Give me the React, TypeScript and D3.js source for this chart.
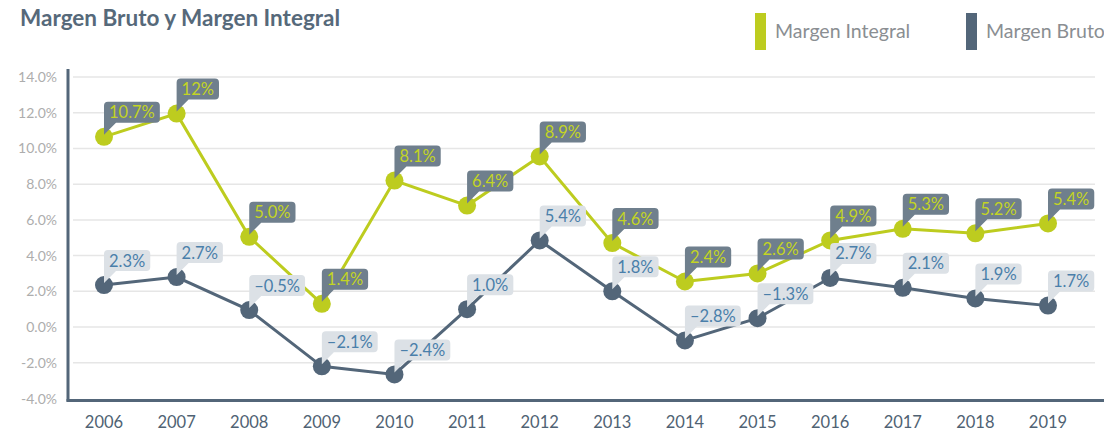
import React, { useEffect, useRef } from "react";
import * as d3 from "d3";

const years = ["2006","2007","2008","2009","2010","2011","2012","2013","2014","2015","2016","2017","2018","2019"];
const integralValues = [10.65, 11.95, 5.05, 1.3, 8.2, 6.8, 9.55, 4.7, 2.55, 3.0, 4.85, 5.5, 5.25, 5.8];
const brutoValues = [2.35, 2.8, 0.95, -2.2, -2.65, 1.0, 4.85, 2.0, -0.75, 0.5, 2.75, 2.2, 1.6, 1.2];
const integralLabels = ["10.7%","12%","5.0%","1.4%","8.1%","6.4%","8.9%","4.6%","2.4%","2.6%","4.9%","5.3%","5.2%","5.4%"];
const brutoLabels = ["2.3%","2.7%","–0.5%","–2.1%","–2.4%","1.0%","5.4%","1.8%","–2.8%","–1.3%","2.7%","2.1%","1.9%","1.7%"];
const yTicks = [-4, -2, 0, 2, 4, 6, 8, 10, 12, 14];
const legendItems = ["Margen Integral", "Margen Bruto"];
const title = "Margen Bruto y Margen Integral";

const W = 1104, H = 433;
const LIME = "#BDCC1F";
const SLATE = "#536679";
const FONT = "Lato, 'Open Sans', sans-serif";

export default function App() {
  const ref = useRef<SVGSVGElement>(null);

  useEffect(() => {
    const svg = d3.select(ref.current);
    svg.selectAll("*").remove();

    const x = d3.scalePoint<string>().domain(years).range([104, 1048]);
    const y = d3.scaleLinear().domain([-4, 14]).range([398.5, 77]);

    // title
    svg.append("text").attr("x", 20).attr("y", 26).attr("font-family", FONT)
      .attr("font-weight", 700).attr("font-size", 22.5).attr("fill", "#56697A").text(title);

    // legend
    const legColors = [LIME, SLATE];
    const legX = [755, 966];
    legendItems.forEach((t, i) => {
      svg.append("rect").attr("x", legX[i]).attr("y", 13).attr("width", 11).attr("height", 37).attr("fill", legColors[i]);
      svg.append("text").attr("x", legX[i] + 20).attr("y", 38).attr("font-family", FONT)
        .attr("font-size", 19.5).attr("fill", "#8A8E92").text(t);
    });

    // gridlines
    yTicks.filter(v => v > -4).forEach(v => {
      svg.append("line").attr("x1", 73).attr("x2", 1095).attr("y1", y(v)).attr("y2", y(v))
        .attr("stroke", "#E6E6E6").attr("stroke-width", 1.5);
    });
    // y tick labels
    yTicks.forEach(v => {
      svg.append("text").attr("x", 57).attr("y", y(v) + 5).attr("text-anchor", "end")
        .attr("font-family", FONT).attr("font-size", 14).attr("fill", "#ADADAD").text(`${v.toFixed(1)}%`);
    });
    // axes
    svg.append("line").attr("x1", 68).attr("x2", 68).attr("y1", 69).attr("y2", 401.5)
      .attr("stroke", SLATE).attr("stroke-width", 3);
    svg.append("line").attr("x1", 66.5).attr("x2", 1104).attr("y1", 400.5).attr("y2", 400.5)
      .attr("stroke", SLATE).attr("stroke-width", 3);

    // x tick labels
    years.forEach(yr => {
      svg.append("text").attr("x", x(yr)!).attr("y", 428).attr("text-anchor", "middle")
        .attr("font-family", FONT).attr("font-size", 16.5).attr("fill", "#4F6273").text(yr);
    });

    const series = [
      { vals: brutoValues, labels: brutoLabels, color: SLATE, box: "#DCE1E6", txt: "#4A7FAA" },
      { vals: integralValues, labels: integralLabels, color: LIME, box: "#6F7F8D", txt: "#C3D424" },
    ];

    const line = d3.line<number>().x((_, i) => x(years[i])!).y(v => y(v));
    series.forEach(s => {
      svg.append("path").attr("d", line(s.vals)!).attr("fill", "none")
        .attr("stroke", s.color).attr("stroke-width", 3);
    });
    series.forEach(s => {
      s.vals.forEach((v, i) => {
        svg.append("circle").attr("cx", x(years[i])!).attr("cy", y(v)).attr("r", 9).attr("fill", s.color);
      });
    });

    // callouts
    series.forEach(s => {
      s.vals.forEach((v, i) => {
        const px = x(years[i])!;
        const py = y(v);
        const g = svg.append("g");
        const path = g.append("path").attr("fill", s.box);
        const t = g.append("text").attr("font-family", FONT).attr("font-size", 16.5)
          .attr("fill", s.txt).text(s.labels[i]);
        const tw = (t.node() as SVGTextElement).getComputedTextLength();
        const left = px;
        const bottom = py - 14;
        const top = bottom - 21;
        const right = left + tw + 10;
        const r = 4;
        const tipY = py - 2;
        path.attr("d",
          `M${left},${tipY} L${left},${top + r} Q${left},${top} ${left + r},${top} ` +
          `L${right - r},${top} Q${right},${top} ${right},${top + r} L${right},${bottom - r} ` +
          `Q${right},${bottom} ${right - r},${bottom} L${left + 12},${bottom} Z`);
        t.attr("x", left + 5).attr("y", bottom - 4.5);
      });
    });
  }, []);

  return (
    <svg ref={ref} width={W} height={H}
      style={{ position: "absolute", left: 0, top: 0, background: "#fff" }} />
  );
}
